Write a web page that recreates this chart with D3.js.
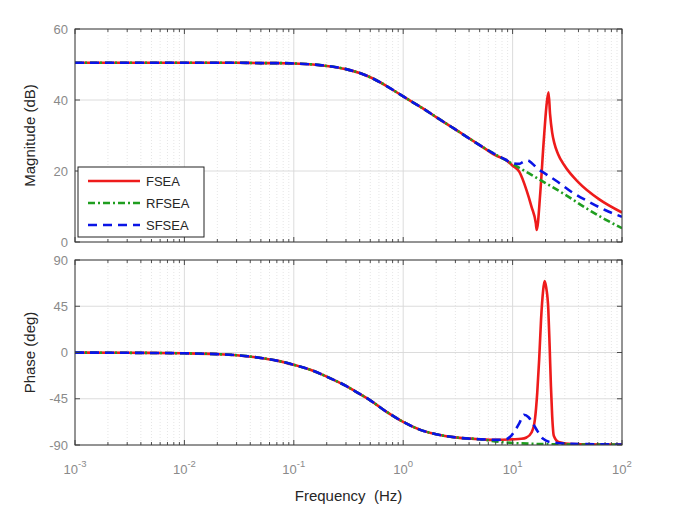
<!DOCTYPE html>
<html>
<head>
<meta charset="utf-8">
<script src="https://cdn.jsdelivr.net/npm/d3@7"></script>
<style>
body { margin: 0; background: #fff; }
text { font-family: "Liberation Sans", Arial, sans-serif; }
</style>
</head>
<body>
<div id="bode"></div>
<script>
// values (Hz, dB, deg)
const baseFreq  = [0.001, 0.003, 0.01, 0.02, 0.03, 0.05, 0.07, 0.1, 0.15, 0.2, 0.3, 0.4, 0.5, 0.7, 1, 1.5, 2, 3, 5]
const baseMag   = [50.5, 50.5, 50.5, 50.5, 50.5, 50.4, 50.4, 50.3, 50.0, 49.6, 48.7, 47.6, 46.4, 44.0, 41.0, 37.7, 35.2, 31.7, 27.3]
const basePhase = [-0.1, -0.3, -0.8, -1.6, -2.6, -5.3, -7.9, -12, -17.8, -23.5, -32.5, -40.3, -46.5, -57.5, -67.5, -76, -79.5, -82.6, -84.4]

const fseaMagF = [7, 8.8, 10, 11.5, 13.4, 14.9, 16.3, 16.6, 17.9, 19.2, 20.5, 21.3, 22, 23, 24, 26, 30, 40, 62, 100]
const fseaMag  = [24.4, 23.0, 21.5, 19.8, 14.6, 9.9, 5.3, 3.4, 13.8, 27.9, 39, 42.2, 36, 30.8, 28.0, 24.8, 21.4, 16.8, 12.0, 8.3]
const fseaPhF  = [7, 10, 12, 13.4, 14.9, 16, 16.8, 17.5, 18.2, 19.0, 19.6, 20.3, 21.2, 21.8, 22.4, 23.0, 23.8, 26.3, 35, 100]
const fseaPh   = [-85, -84.5, -84, -82.7, -77.8, -65, -39, -6.5, 32, 60, 69.5, 63, 42, 6.5, -32.5, -61.7, -81, -87, -89, -89.5]

const rfseaMagF = [7, 10, 14, 20, 30, 50, 70, 100]
const rfseaMag  = [24.6, 22.0, 19.4, 16.6, 13.4, 9.0, 6.4, 3.9]
const rfseaPhF  = [7, 10, 15, 20, 30, 50, 100]
const rfseaPh   = [-86.5, -88, -88.8, -89.2, -89.4, -89.6, -89.7]

const sfseaMagF = [7, 8.5, 10, 11.5, 12.5, 13.7, 15, 17, 20, 26, 35, 50, 70, 100]
const sfseaMag  = [24.6, 23.3, 22.2, 22.0, 22.6, 23.0, 22.2, 20.6, 19.2, 16.9, 14.0, 11.3, 9.0, 7.1]
const sfseaPhF  = [7, 8.5, 9.5, 10.5, 11.5, 12.7, 14, 15.5, 17, 19, 23, 35, 100]
const sfseaPh   = [-85, -84.8, -82, -76, -69, -60.5, -63, -70, -77, -84, -87.5, -88.8, -89.5]

const magTicks = [0, 20, 40, 60]
const phaseTicks = [-90, -45, 0, 45, 90]
const decadeExp = [-3, -2, -1, 0, 1, 2]

const W = 683, H = 521
const left = 75, right = 622

const svg = d3.select("#bode").append("svg").attr("width", W).attr("height", H)

const x = d3.scaleLog().domain([1e-3, 1e2]).range([left, right])
const isMajor = d => Math.abs(Math.log10(d) - Math.round(Math.log10(d))) < 1e-6
const minorTicks = x.ticks().filter(d => !isMajor(d))
const majorTicks = decadeExp.map(e => Math.pow(10, e))

const pts = (f, v) => d3.zip(f, v)
const series = [
    { name: "FSEA", color: "#ee1b1b", dash: null,
      mag: pts(baseFreq.concat(fseaMagF), baseMag.concat(fseaMag)),
      ph: pts(baseFreq.concat(fseaPhF), basePhase.concat(fseaPh)) },
    { name: "RFSEA", color: "#1f9e1f", dash: "7,3,2,3",
      mag: pts(baseFreq.concat(rfseaMagF), baseMag.concat(rfseaMag)),
      ph: pts(baseFreq.concat(rfseaPhF), basePhase.concat(rfseaPh)) },
    { name: "SFSEA", color: "#0a14e6", dash: "9,6",
      mag: pts(baseFreq.concat(sfseaMagF), baseMag.concat(sfseaMag)),
      ph: pts(baseFreq.concat(sfseaPhF), basePhase.concat(sfseaPh)) }
]

function panel(id, yDomain, top, bottom, ticks, key) {
    const y = d3.scaleLinear().domain(yDomain).range([bottom, top])
    const g = svg.append("g")

    g.append("clipPath").attr("id", id).append("rect")
        .attr("x", left).attr("y", top).attr("width", right - left).attr("height", bottom - top)

    // grid
    g.selectAll(".minor").data(minorTicks).join("line")
        .attr("x1", d => x(d)).attr("x2", d => x(d)).attr("y1", top).attr("y2", bottom)
        .attr("stroke", "#dedede").attr("stroke-width", 0.8).attr("stroke-dasharray", "1,2")
    g.selectAll(".major").data(majorTicks).join("line")
        .attr("x1", d => x(d)).attr("x2", d => x(d)).attr("y1", top).attr("y2", bottom)
        .attr("stroke", "#d8d8d8").attr("stroke-width", 0.9)
    g.selectAll(".hgrid").data(ticks).join("line")
        .attr("x1", left).attr("x2", right).attr("y1", d => y(d)).attr("y2", d => y(d))
        .attr("stroke", "#d8d8d8").attr("stroke-width", 0.9)

    // curves
    const line = d3.line().x(d => x(d[0])).y(d => y(d[1])).curve(d3.curveMonotoneX)
    g.append("g").attr("clip-path", "url(#" + id + ")")
        .selectAll("path").data(series).join("path")
        .attr("d", d => line(d[key]))
        .attr("fill", "none")
        .attr("stroke", d => d.color)
        .attr("stroke-width", 2.6)
        .attr("stroke-dasharray", d => d.dash)

    // box and inward ticks
    g.append("rect").attr("x", left).attr("y", top).attr("width", right - left).attr("height", bottom - top)
        .attr("fill", "none").attr("stroke", "#3a3a3a").attr("stroke-width", 1)
    const tk = g.append("g").attr("stroke", "#3a3a3a").attr("stroke-width", 0.9)
    majorTicks.concat(minorTicks).forEach(d => {
        const len = isMajor(d) ? 5 : 3
        tk.append("line").attr("x1", x(d)).attr("x2", x(d)).attr("y1", bottom).attr("y2", bottom - len)
        tk.append("line").attr("x1", x(d)).attr("x2", x(d)).attr("y1", top).attr("y2", top + len)
    })
    ticks.forEach(d => {
        tk.append("line").attr("x1", left).attr("x2", left + 5).attr("y1", y(d)).attr("y2", y(d))
        tk.append("line").attr("x1", right).attr("x2", right - 5).attr("y1", y(d)).attr("y2", y(d))
    })

    g.selectAll(".ylab").data(ticks).join("text")
        .attr("x", left - 7).attr("y", d => y(d)).attr("dy", "0.35em")
        .attr("text-anchor", "end").attr("font-size", 13).attr("fill", "#8a8a8a")
        .text(d => d)
    return y
}

panel("clipMag", [0, 60], 29, 242, magTicks, "mag")
panel("clipPh", [-90, 90], 260, 445, phaseTicks, "ph")

// x tick labels 10^n
const xl = svg.selectAll(".xlab").data(decadeExp).join("text")
    .attr("x", d => x(Math.pow(10, d))).attr("y", 474)
    .attr("text-anchor", "middle").attr("font-size", 13).attr("fill", "#8a8a8a")
xl.append("tspan").text("10")
xl.append("tspan").attr("dy", -7).attr("font-size", 9.5).text(d => d)

// axis titles
svg.append("text").attr("x", (left + right) / 2).attr("y", 501)
    .attr("text-anchor", "middle").attr("font-size", 15).attr("fill", "#262626")
    .style("white-space", "pre").text("Frequency  (Hz)")
svg.append("text").attr("transform", "translate(35,135.5) rotate(-90)")
    .attr("text-anchor", "middle").attr("font-size", 15).attr("fill", "#262626")
    .text("Magnitude (dB)")
svg.append("text").attr("transform", "translate(35,352.5) rotate(-90)")
    .attr("text-anchor", "middle").attr("font-size", 15).attr("fill", "#262626")
    .text("Phase (deg)")

// legend
const lg = svg.append("g")
lg.append("rect").attr("x", 78).attr("y", 167).attr("width", 126).attr("height", 70)
    .attr("fill", "#fff").attr("stroke", "#222").attr("stroke-width", 1)
series.forEach((s, i) => {
    const yy = 181 + i * 22
    lg.append("line").attr("x1", 88).attr("x2", 140).attr("y1", yy).attr("y2", yy)
        .attr("stroke", s.color).attr("stroke-width", 2.6).attr("stroke-dasharray", s.dash)
    lg.append("text").attr("x", 146).attr("y", yy).attr("dy", "0.35em")
        .attr("font-size", 13).attr("fill", "#262626").text(s.name)
})
</script>
</body>
</html>
